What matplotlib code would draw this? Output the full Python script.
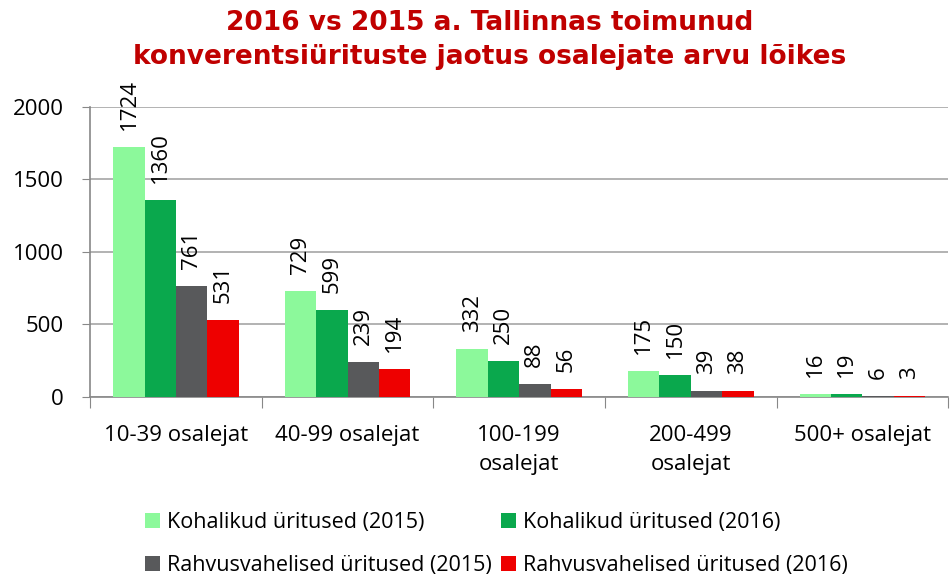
import numpy as np
import matplotlib.pyplot as plt

# data
categories = ["10-39 osalejat", "40-99 osalejat", "100-199\nosalejat", "200-499\nosalejat", "500+ osalejat"]
series_names = ["Kohalikud üritused (2015)", "Kohalikud üritused (2016)",
                "Rahvusvahelised üritused (2015)", "Rahvusvahelised üritused (2016)"]
local_2015 = [1724, 729, 332, 175, 16]
local_2016 = [1360, 599, 250, 150, 19]
intl_2015 = [761, 239, 88, 39, 6]
intl_2016 = [531, 194, 56, 38, 3]
colors = ["#8CF99B", "#0AA84D", "#58595B", "#EE0000"]

title = "2016 vs 2015 a. Tallinnas toimunud\nkonverentsiürituste jaotus osalejate arvu lõikes"

plt.rcParams['font.family'] = ['Open Sans', 'DejaVu Sans']

fig = plt.figure(figsize=(9.5, 5.75), dpi=100)
ax = fig.add_axes([0.095, 0.31, 0.903, 0.504])

x = np.arange(len(categories))
width = 0.183
series = [local_2015, local_2016, intl_2015, intl_2016]
handles = []
for k, (vals, name, col) in enumerate(zip(series, series_names, colors)):
    pos = x + (k - 1.5) * width
    h = ax.bar(pos, vals, width=width, color=col, label=name, zorder=3)
    handles.append(h)
    for p, v in zip(pos, vals):
        ax.annotate(str(v), (p, v), xytext=(0, 17), textcoords="offset pixels",
                    rotation=90, ha="center", va="bottom", fontsize=16)

ax.set_xlim(-0.5, len(categories) - 0.5)
ax.set_ylim(0, 2000)
ax.set_yticks([0, 500, 1000, 1500, 2000])
ax.tick_params(axis="y", labelsize=16, length=6, color="#888888", pad=13)
ax.grid(axis="y", color="#A6A6A6", linewidth=1.2, zorder=0)

# category ticks at the boundaries, labels centred
ax.set_xticks(np.arange(len(categories) + 1) - 0.5)
ax.set_xticklabels([])
ax.set_xticks(x, minor=True)
ax.set_xticklabels(categories, minor=True, fontsize=16, linespacing=1.5)
ax.tick_params(axis="x", which="major", length=8, color="#888888")
ax.tick_params(axis="x", which="minor", length=0, pad=20)

for s in ["top", "right"]:
    ax.spines[s].set_visible(False)
for s in ["left", "bottom"]:
    ax.spines[s].set_color("#888888")
    ax.spines[s].set_linewidth(1.2)

fig.text(0.515, 0.982, title, ha="center", va="top", fontsize=19, fontweight="bold",
         color="#C00000", family="DejaVu Sans", linespacing=1.4)

order = [0, 2, 1, 3]
fig.legend([handles[i] for i in order], [series_names[i] for i in order],
           loc="lower left", bbox_to_anchor=(0.132, -0.035), ncol=2, frameon=False,
           fontsize=15.5, handlelength=0.7, handleheight=0.7,
           handletextpad=0.35, columnspacing=0.4, labelspacing=1.0)

fig.savefig("out.png", dpi=100)
